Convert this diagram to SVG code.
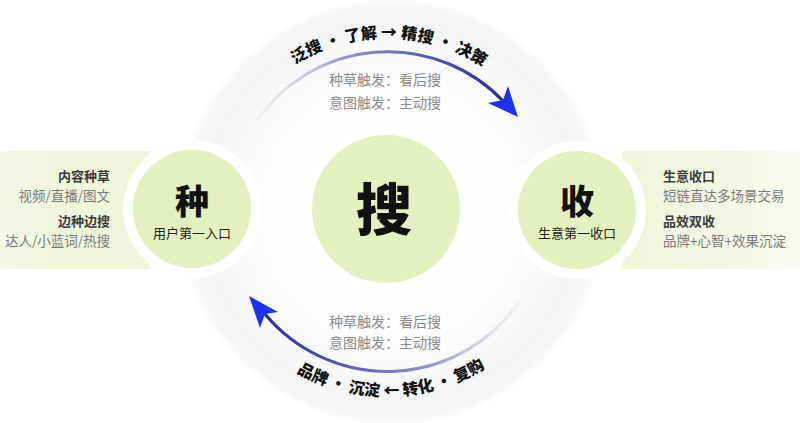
<svg xmlns="http://www.w3.org/2000/svg" width="800" height="423" viewBox="0 0 800 423">
<defs>
<radialGradient id="bg" cx="392" cy="212" r="214" gradientUnits="userSpaceOnUse">
<stop offset="0" stop-color="#ffffff"/>
<stop offset="0.6" stop-color="#fdfdfd"/>
<stop offset="0.88" stop-color="#f5f5f5"/>
<stop offset="0.97" stop-color="#f7f7f7"/>
<stop offset="1" stop-color="#ffffff"/>
</radialGradient>
<linearGradient id="bandL" x1="0" y1="0" x2="150" y2="0" gradientUnits="userSpaceOnUse">
<stop offset="0" stop-color="#f4f8e6"/>
<stop offset="0.4" stop-color="#eef5d8"/>
<stop offset="1" stop-color="#eef5d8"/>
</linearGradient>
<linearGradient id="bandR" x1="620" y1="0" x2="800" y2="0" gradientUnits="userSpaceOnUse">
<stop offset="0" stop-color="#eef5d8"/>
<stop offset="0.6" stop-color="#f2f7e2"/>
<stop offset="1" stop-color="#fafcf4"/>
</linearGradient>
<linearGradient id="arcTop" x1="257" y1="0" x2="503" y2="0" gradientUnits="userSpaceOnUse">
<stop offset="0" stop-color="#d0d0d8" stop-opacity="0.2"/>
<stop offset="0.35" stop-color="#8f96c8"/>
<stop offset="1" stop-color="#222c98"/>
</linearGradient>
<linearGradient id="arcBot" x1="265" y1="0" x2="520" y2="0" gradientUnits="userSpaceOnUse">
<stop offset="0" stop-color="#222c98"/>
<stop offset="0.65" stop-color="#8f96c8"/>
<stop offset="1" stop-color="#d0d0d8" stop-opacity="0.2"/>
</linearGradient>
<path id="tpTop" d="M223.5,152.5 A174,174 0 0 1 550.5,152.5"/>
<path id="tpBot" d="M214.1,275.2 A184,184 0 0 0 559.9,275.2"/>
<style>
.cjk{font-family:"Noto Sans CJK SC","Noto Sans",sans-serif}
.node{fill:#e5f0c0}
.halo{fill:#ffffff}
.big{font-weight:900;fill:#111;text-anchor:middle}
.sub{font-size:13px;fill:#222;text-anchor:middle}
.h{font-size:13px;font-weight:700;fill:#3c3c3c}
.d{font-size:13.5px;fill:#7a7a7a}
.g{font-size:14px;fill:#8a8a8a;text-anchor:middle}
.arc{font-size:16px;font-weight:800;fill:#111}
.arr{fill:#1e33e6}
</style>
</defs>
<rect width="800" height="423" fill="#ffffff"/>
<circle cx="392" cy="212" r="214" fill="url(#bg)"/>
<rect x="0" y="151" width="150" height="118" fill="url(#bandL)"/>
<rect x="622" y="151" width="178" height="118" fill="url(#bandR)"/>
<circle class="halo" cx="192" cy="209" r="69"/>
<circle class="halo" cx="577" cy="210" r="69"/>
<circle class="halo" cx="386" cy="209" r="84"/>

<g id="connectors">
<path d="M256.8,120.7 A159,159 0 0 1 503,101" fill="none" stroke="url(#arcTop)" stroke-width="3"/>
<path class="arr" d="M518,117 L488,103 L503,100 L508,86 Z"/>
<path d="M265,314 A159,159 0 0 0 520,300" fill="none" stroke="url(#arcBot)" stroke-width="3"/>
<path class="arr" d="M249,296 L278,312 L265,314 L260,328 Z"/>
</g>

<g id="top-label" class="cjk">
<text class="arc"><textPath href="#tpTop" startOffset="50.5%" text-anchor="middle">泛搜 · 了解 → 精搜 · 决策</textPath></text>
<text class="g" x="385" y="85">种草触发：看后搜</text>
<text class="g" x="385" y="108">意图触发：主动搜</text>
</g>

<g id="bottom-label" class="cjk">
<text class="arc"><textPath href="#tpBot" startOffset="51%" text-anchor="middle">品牌 · 沉淀 ← 转化 · 复购</textPath></text>
<text class="g" x="385" y="327">种草触发：看后搜</text>
<text class="g" x="385" y="348">意图触发：主动搜</text>
</g>

<g id="node-zhong" class="cjk">
<circle class="node" cx="192" cy="209" r="59"/>
<text class="big" x="192" y="199" font-size="34" dominant-baseline="central">种</text>
<text class="sub" x="192" y="238">用户第一入口</text>
</g>

<g id="node-sou" class="cjk">
<circle class="node" cx="386" cy="209" r="74"/>
<text class="big" x="384" y="205" font-size="56" dominant-baseline="central">搜</text>
</g>

<g id="node-shou" class="cjk">
<circle class="node" cx="577" cy="210" r="59"/>
<text class="big" x="577" y="199" font-size="34" dominant-baseline="central">收</text>
<text class="sub" x="577" y="238">生意第一收口</text>
</g>

<g id="left-notes" class="cjk" text-anchor="end">
<text class="h" x="110" y="181">内容种草</text>
<text class="d" x="110" y="201">视频/直播/图文</text>
<text class="h" x="110" y="226">边种边搜</text>
<text class="d" x="110" y="246">达人/小蓝词/热搜</text>
</g>

<g id="right-notes" class="cjk">
<text class="h" x="663" y="181">生意收口</text>
<text class="d" x="663" y="201">短链直达多场景交易</text>
<text class="h" x="663" y="226">品效双收</text>
<text class="d" x="663" y="246">品牌+心智+效果沉淀</text>
</g>
</svg>
